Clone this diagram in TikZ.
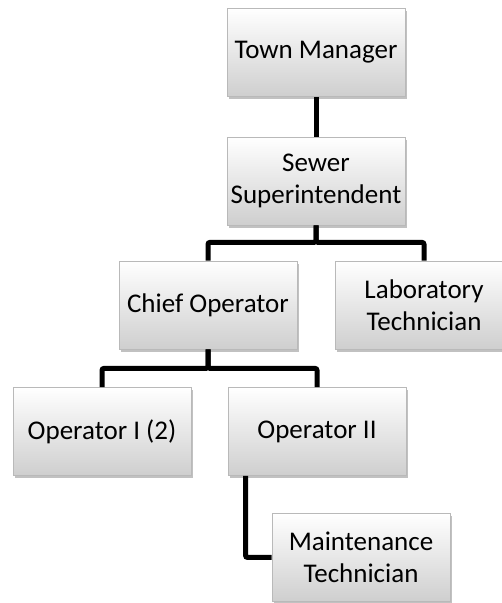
\documentclass[tikz,border=0pt]{standalone}
\usepackage{fontspec}
\setmainfont{Carlito}
\usetikzlibrary{shadows}

\begin{document}
\begin{tikzpicture}[x=1pt, y=1pt,
        orgbox/.style={draw=gray!55, line width=0.8pt, top color=white, bottom color=gray!38,
            minimum width=178pt, minimum height=88pt, inner sep=0pt, align=center,
            font=\fontsize{27}{32}\selectfont,
            drop shadow={shadow xshift=2pt, shadow yshift=-3pt, opacity=0.35, fill=black!70}},
        link/.style={line width=5pt, rounded corners=2pt}]
            \useasboundingbox (0, 0) rectangle (502, 603);

            \node[orgbox] (town) at (316, 550.5) {Town Manager};
            \node[orgbox] (sewer) at (316, 422) {Sewer\\Superintendent};
            \node[orgbox] (chief) at (208, 298) {Chief Operator};
            \node[orgbox] (lab) at (424, 298) {Laboratory\\Technician};
            \node[orgbox] (op1) at (102, 171.5) {Operator I (2)};
            \node[orgbox] (op2) at (317, 171.5) {Operator II};
            \node[orgbox] (maint) at (361, 45.5) {Maintenance\\Technician};

            \draw[link] (town) -- (sewer);
            \draw[link] (sewer.south) -- ++(0, -17) -| (chief.north);
            \draw[link] (sewer.south) -- ++(0, -17) -| (lab.north);
            \draw[link] (chief.south) -- ++(0, -19) -| (op1.north);
            \draw[link] (chief.south) -- ++(0, -19) -| (op2.north);
            \draw[link] (op2.south west) ++(18, 0) |- (maint.west);

        \end{tikzpicture}
\end{document}
